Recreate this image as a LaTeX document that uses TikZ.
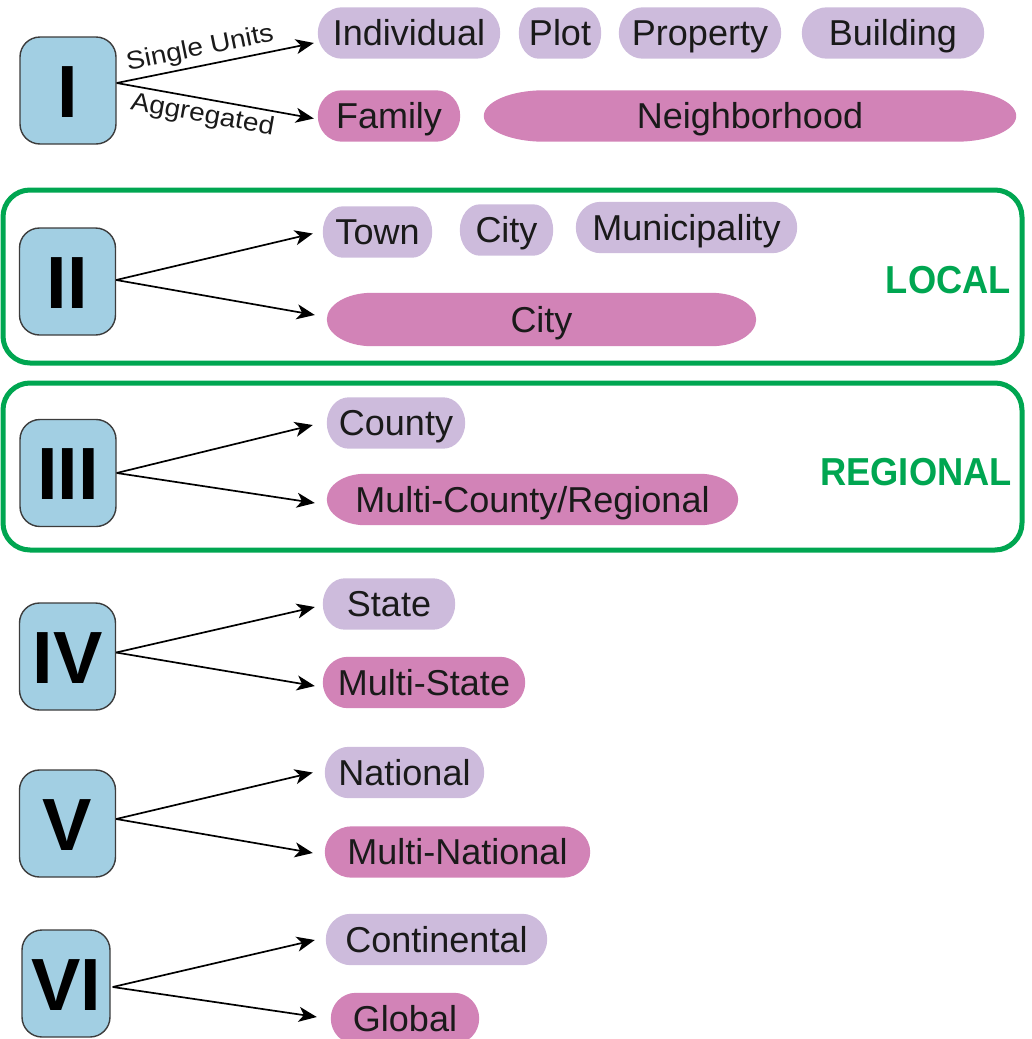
\documentclass[tikz,border=0pt]{standalone}
\usepackage{fontspec}
\usepackage{graphicx}
\setmainfont{Liberation Sans}
\usetikzlibrary{arrows.meta,backgrounds,calc}

\definecolor{boxblue}{HTML}{A2CFE3}
\definecolor{boxline}{HTML}{3C3C3C}
\definecolor{unitlilac}{HTML}{CDBBDC}
\definecolor{aggpink}{HTML}{D283B7}
\definecolor{scalegreen}{HTML}{00A651}
\definecolor{ink}{HTML}{1A1A1A}

% filled capsule behind a node: node name, colour, horizontal radius of the ends
\newcommand{\capsulefill}[3]{%
  \fill[#2] let \p1=(#1.north), \p2=(#1.south) in
    ([xshift=#3pt]#1.north west) -- ([xshift=-#3pt]#1.north east)
    arc[start angle=90,end angle=-90,x radius=#3pt,y radius={0.5*(\y1-\y2)}]
    -- ([xshift=#3pt]#1.south west)
    arc[start angle=270,end angle=90,x radius=#3pt,y radius={0.5*(\y1-\y2)}] -- cycle;}

\tikzset{
  numbox/.style={draw=boxline, fill=boxblue, line width=1.4pt, rounded corners=20pt,
    minimum width=96pt, minimum height=107pt, inner sep=0pt,
    text height=53pt, text depth=0pt, font=\fontsize{74}{74}\selectfont\bfseries},
  pill/.style={inner sep=0pt, minimum height=51pt, text height=25.8pt, text depth=0pt,
    font=\fontsize{36}{40}\selectfont, text=ink},
  link/.style={draw=black, line width=1.7pt, -{Stealth[length=18pt,width=15pt,inset=5pt]}},
  edgelabel/.style={font=\fontsize{25.5}{28}\selectfont, text=ink, inner sep=4pt},
  zone/.style={draw=scalegreen, line width=5pt, rounded corners=27pt},
  zonelabel/.style={font=\fontsize{39}{40}\selectfont\bfseries, text=scalegreen, inner sep=0pt}
}

\begin{document}
\begin{tikzpicture}[x=1pt,y=1pt]
\useasboundingbox (0,0) rectangle (1031,-1039);
\clip (0,0) rectangle (1031,-1039);

% scale frames
\draw[zone] (3,-190) rectangle (1022,-363);
\draw[zone] (3,-383) rectangle (1022,-550);
\node[zonelabel, anchor=base east] (local) at (1011,-293) {\scalebox{0.93}[1]{LOCAL}};
\node[zonelabel, anchor=base east] (regional) at (1012,-485) {\scalebox{0.93}[1]{REGIONAL}};

% level boxes
\node[numbox] (b1) at (68,-90.5) {I};
\node[numbox] (b2) at (67.5,-281.5) {II};
\node[numbox] (b3) at (68,-473) {III};
\node[numbox] (b4) at (67.5,-656.5) {IV};
\node[numbox] (b5) at (67.5,-823.5) {V};
\node[numbox, minimum width=88pt] (b6) at (66,-983.5) {VI};

% level I
\node[pill, minimum width=182pt] (individual) at (409,-33) {Individual};
\node[pill, minimum width=82pt] (plot) at (560,-33) {Plot};
\node[pill, minimum width=162pt] (property) at (700,-33) {Property};
\node[pill, minimum width=182pt] (building) at (893,-33) {Building};
\node[pill, minimum width=142pt] (family) at (389,-116) {Family};
\node[pill, minimum width=532pt] (neighborhood) at (750,-116) {Neighborhood};

% level II
\node[pill, minimum width=109pt] (town) at (377.5,-232) {Town};
\node[pill, minimum width=93pt] (city) at (506.5,-230) {City};
\node[pill, minimum width=221pt] (municipality) at (686.5,-227.5) {Municipality};
\node[pill, minimum width=429pt, minimum height=53pt] (citywide) at (541.5,-319.5) {City};

% level III
\node[pill, minimum width=138pt] (county) at (396,-423) {County};
\node[pill, minimum width=411pt] (multicounty) at (532.5,-499.5) {Multi-County/Regional};

% level IV
\node[pill, minimum width=132pt] (state) at (389,-604) {State};
\node[pill, minimum width=202pt] (multistate) at (424,-682.5) {Multi-State};

% level V
\node[pill, minimum width=159pt] (national) at (404.5,-772.5) {National};
\node[pill, minimum width=265pt] (multinational) at (457.5,-852) {Multi-National};

% level VI
\node[pill, minimum width=221pt] (continental) at (436.5,-939.5) {Continental};
\node[pill, minimum width=148pt] (global) at (405,-1018.5) {Global};

% capsule fills
\begin{scope}[on background layer]
  \capsulefill{individual}{unitlilac}{24}
  \capsulefill{plot}{unitlilac}{20}
  \capsulefill{property}{unitlilac}{24}
  \capsulefill{building}{unitlilac}{25}
  \capsulefill{family}{aggpink}{24}
  \capsulefill{neighborhood}{aggpink}{60}
  \capsulefill{town}{unitlilac}{20}
  \capsulefill{city}{unitlilac}{20}
  \capsulefill{municipality}{unitlilac}{25}
  \capsulefill{citywide}{aggpink}{45}
  \capsulefill{county}{unitlilac}{22}
  \capsulefill{multicounty}{aggpink}{38}
  \capsulefill{state}{unitlilac}{22}
  \capsulefill{multistate}{aggpink}{25}
  \capsulefill{national}{unitlilac}{24}
  \capsulefill{multinational}{aggpink}{27}
  \capsulefill{continental}{unitlilac}{25}
  \capsulefill{global}{aggpink}{25}
\end{scope}

% connectors
\draw[link] ([yshift=7.5pt]b1.east) --
  node[sloped, above, pos=0.44, edgelabel] {\scalebox{1.1}[1]{Single Units}}
  ([xshift=-4pt,yshift=-10pt]individual.west);
\draw[link] ([yshift=7.5pt]b1.east) --
  node[sloped, below, pos=0.45, edgelabel] {\scalebox{1.1}[1]{Aggregated}}
  ([xshift=-4pt,yshift=-2.5pt]family.west);

\draw[link] ([yshift=1.5pt]b2.east) -- ([xshift=-10pt,yshift=-1.5pt]town.west);
\draw[link] ([yshift=1.5pt]b2.east) -- ([xshift=-12pt,yshift=4.5pt]citywide.west);

\draw[link] (b3.east) -- ([xshift=-14pt,yshift=-2pt]county.west);
\draw[link] (b3.east) -- ([xshift=-12pt,yshift=-3.5pt]multicounty.west);

\draw[link] ([yshift=4pt]b4.east) -- ([xshift=-8pt,yshift=-3pt]state.west);
\draw[link] ([yshift=4pt]b4.east) -- ([xshift=-8pt,yshift=-3.5pt]multistate.west);

\draw[link] ([yshift=4.5pt]b5.east) -- ([xshift=-12pt,yshift=0pt]national.west);
\draw[link] ([yshift=4.5pt]b5.east) -- ([xshift=-12pt,yshift=-1pt]multinational.west);

\draw[link] ([xshift=2pt,yshift=-3.5pt]b6.east) -- ([xshift=-11pt,yshift=-0.5pt]continental.west);
\draw[link] ([xshift=2pt,yshift=-3.5pt]b6.east) -- ([xshift=-14pt,yshift=1.5pt]global.west);
\end{tikzpicture}
\end{document}
